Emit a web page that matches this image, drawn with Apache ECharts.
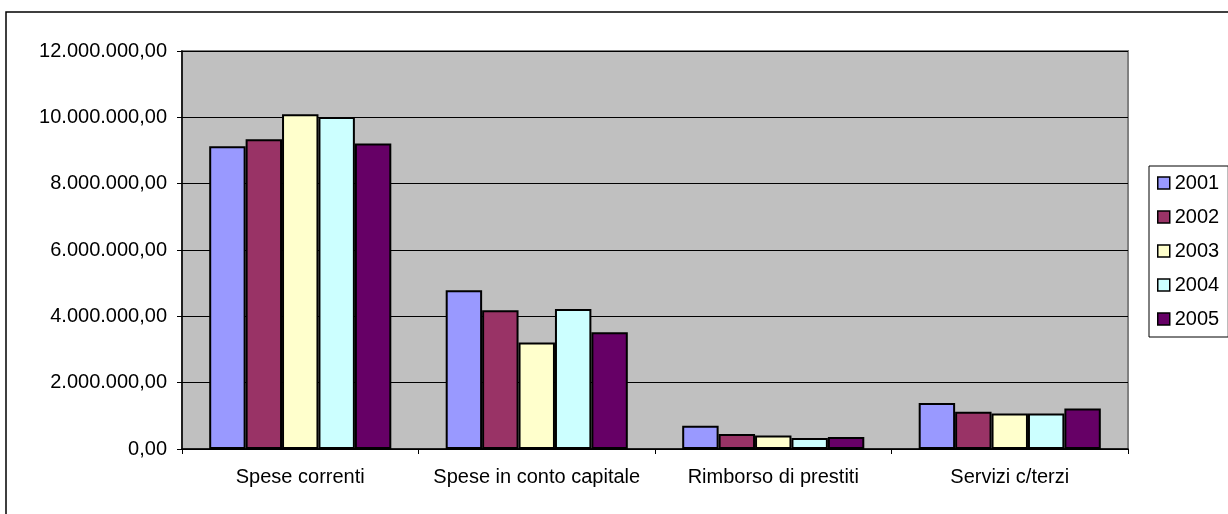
<!DOCTYPE html>
<html>
<head>
<meta charset="utf-8">
<script src="https://cdn.jsdelivr.net/npm/echarts@6/dist/echarts.min.js"></script>
<style>
html,body{margin:0;padding:0;background:#fff;}
#chart{width:1228px;height:514px;}
</style>
</head>
<body>
<div id="chart"></div>
<script>
const categories = ['Spese correnti', 'Spese in conto capitale', 'Rimborso di prestiti', 'Servizi c/terzi'];
const years = ['2001', '2002', '2003', '2004', '2005'];
const values2001 = [9130000, 4790000, 700000, 1390000];
const values2002 = [9340000, 4180000, 450000, 1120000];
const values2003 = [10090000, 3210000, 410000, 1070000];
const values2004 = [10010000, 4220000, 330000, 1070000];
const values2005 = [9210000, 3520000, 360000, 1220000];
const yTicks = [0, 2000000, 4000000, 6000000, 8000000, 10000000, 12000000];
const colors = ['#9999FF', '#993366', '#FFFFCC', '#CCFFFF', '#660066'];

const seriesValues = [values2001, values2002, values2003, values2004, values2005];

function fmt(v) {
  return String(Math.round(v)).replace(/\B(?=(\d{3})+(?!\d))/g, '.') + ',00';
}

const chart = echarts.init(document.getElementById('chart'), null, {renderer: 'canvas'});
const font = 'Liberation Sans, Arial, sans-serif';

chart.setOption({
  animation: false,
  backgroundColor: '#ffffff',
  textStyle: {fontFamily: font},
  graphic: [{
    type: 'rect',
    shape: {x: 6, y: 12, width: 1300, height: 600},
    style: {fill: 'none', stroke: '#000', lineWidth: 1.5},
    silent: true,
    z: -10
  }],
  grid: {
    left: 182, right: 100, top: 51, bottom: 65,
    show: true,
    backgroundColor: '#C0C0C0',
    borderColor: '#808080',
    borderWidth: 2
  },
  legend: {
    orient: 'vertical',
    left: 1149, top: 166,
    data: years,
    backgroundColor: '#fff',
    borderColor: '#000',
    borderWidth: 1,
    padding: [7, 9, 8, 8],
    itemWidth: 12, itemHeight: 12,
    itemGap: 14,
    icon: 'rect',
    itemStyle: {borderColor: '#000', borderWidth: 1.5},
    textStyle: {fontSize: 20, color: '#000', fontFamily: font}
  },
  xAxis: {
    type: 'category',
    data: categories,
    axisLine: {lineStyle: {color: '#000', width: 1.5}},
    axisTick: {show: true, length: 5, lineStyle: {color: '#000'}},
    axisLabel: {fontSize: 20, color: '#000', margin: 18, fontFamily: font, interval: 0},
    splitLine: {show: false}
  },
  yAxis: {
    type: 'value',
    min: yTicks[0], max: yTicks[yTicks.length - 1], interval: yTicks[1] - yTicks[0],
    axisLine: {show: true, lineStyle: {color: '#000', width: 1.5}},
    axisTick: {show: true, length: 5, lineStyle: {color: '#000'}},
    axisLabel: {fontSize: 20, color: '#000', margin: 15, fontFamily: font, formatter: fmt},
    splitLine: {show: true, lineStyle: {color: '#000', width: 1}}
  },
  series: years.map((y, i) => ({
    name: y,
    type: 'bar',
    data: seriesValues[i],
    barGap: '0%',
    barCategoryGap: '23%',
    itemStyle: {color: colors[i], borderColor: '#000', borderWidth: 2}
  }))
});
</script>
</body>
</html>
